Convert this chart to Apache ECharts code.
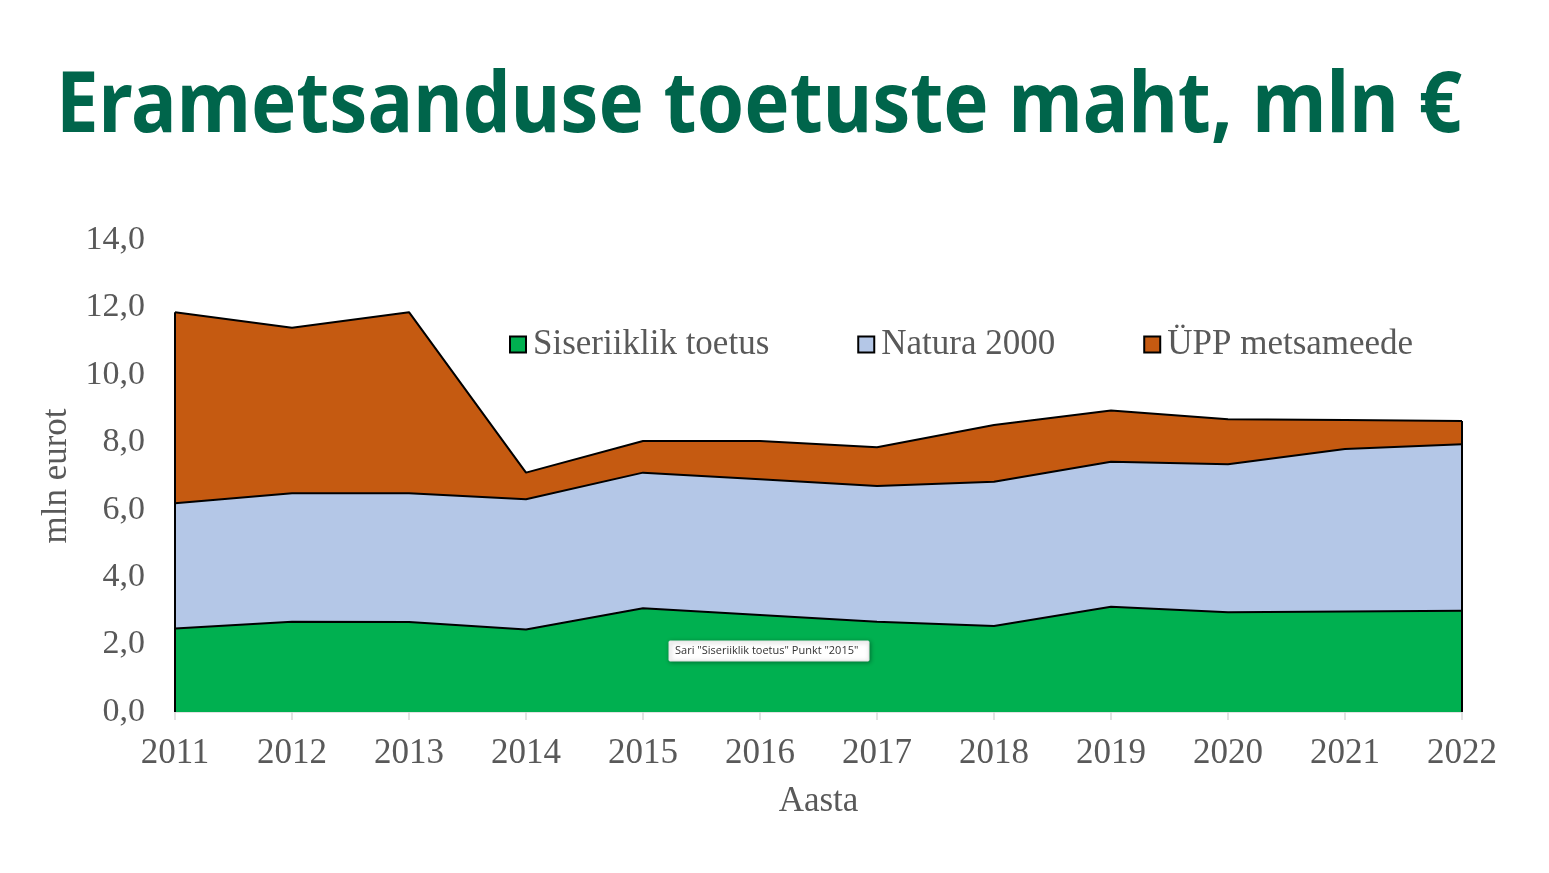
<!DOCTYPE html>
<html>
<head>
    <meta charset="utf-8">
    <title>Erametsanduse toetuste maht</title>
    <script src="https://cdn.jsdelivr.net/npm/echarts@6/dist/echarts.min.js"></script>
    <style type="text/css">
        html, body {
            margin: 0;
            padding: 0;
            background: #fff;
        }
        #main {
            width: 1549px;
            height: 873px;
        }
    </style>
</head>
<body>
<div id="main"></div>
<script>
    var years = ["2011", "2012", "2013", "2014", "2015", "2016", "2017", "2018", "2019", "2020", "2021", "2022"];
    var siseriiklik = [2.48, 2.68, 2.67, 2.45, 3.08, 2.88, 2.68, 2.55, 3.12, 2.96, 2.98, 3.00];
    var natura = [3.71, 3.81, 3.82, 3.86, 4.02, 4.02, 4.02, 4.28, 4.30, 4.39, 4.82, 4.94];
    var upp = [5.67, 4.91, 5.37, 0.79, 0.94, 1.14, 1.15, 1.68, 1.52, 1.33, 0.86, 0.69];
    var seriesNames = ["Siseriiklik toetus", "Natura 2000", "ÜPP metsameede"];
    var yTicks = [0, 2, 4, 6, 8, 10, 12, 14];

    var gray = '#595959';
    var serif = '"Liberation Serif", "DejaVu Serif", serif';

    // kogusumma servajoonte jaoks (Exceli ala kontuur)
    var last = years.length - 1;
    var totalFirst = siseriiklik[0] + natura[0] + upp[0];
    var totalLast = siseriiklik[last] + natura[last] + upp[last];

    function areaSeries(name, data, color) {
        return {
            name: name,
            type: 'line',
            stack: 'kokku',
            data: data,
            showSymbol: false,
            symbol: 'none',
            lineStyle: {color: '#000', width: 2},
            itemStyle: {color: color, borderColor: '#000', borderWidth: 2},
            areaStyle: {color: color, opacity: 1},
            emphasis: {disabled: true}
        };
    }

    var myChart = echarts.init(document.getElementById('main'));
    var upps = areaSeries(seriesNames[2], upp, '#C55A11');
    upps.markLine = {
        silent: true,
        symbol: 'none',
        label: {show: false},
        lineStyle: {color: '#000', width: 2, type: 'solid'},
        data: [
            [{coord: [0, 0]}, {coord: [0, totalFirst]}],
            [{coord: [last, 0]}, {coord: [last, totalLast]}]
        ]
    };

    var option = {
        animation: false,
        backgroundColor: '#fff',
        legend: {
            data: seriesNames,
            left: 504,
            top: 322,
            itemGap: 88,
            itemWidth: 16,
            itemHeight: 16,
            icon: 'rect',
            itemStyle: {borderColor: '#000', borderWidth: 2},
            textStyle: {fontFamily: serif, fontSize: 35, color: gray, padding: [0, 0, 0, 2]}
        },
        grid: {
            left: 175,
            right: 87,
            top: 240,
            bottom: 161,
            containLabel: false
        },
        xAxis: {
            type: 'category',
            data: years,
            boundaryGap: false,
            name: 'Aasta',
            nameLocation: 'middle',
            nameGap: 72,
            nameTextStyle: {fontFamily: serif, fontSize: 35, color: gray},
            axisLine: {lineStyle: {color: '#D9D9D9', width: 1.5}},
            axisTick: {show: true, length: 8, lineStyle: {color: '#D9D9D9', width: 1.5}},
            axisLabel: {fontFamily: serif, fontSize: 35, color: gray, margin: 24},
            splitLine: {show: false}
        },
        yAxis: {
            type: 'value',
            min: yTicks[0],
            max: yTicks[yTicks.length - 1],
            interval: 2,
            name: 'mln eurot',
            nameLocation: 'middle',
            nameGap: 98,
            nameTextStyle: {fontFamily: serif, fontSize: 35, color: gray},
            axisLine: {show: false},
            axisTick: {show: false},
            splitLine: {show: false},
            axisLabel: {
                fontFamily: serif,
                fontSize: 34,
                color: gray,
                margin: 30,
                formatter: function (v) {
                    return v.toFixed(1).replace('.', ',');
                }
            }
        },
        series: [
            areaSeries(seriesNames[0], siseriiklik, '#00B050'),
            areaSeries(seriesNames[1], natura, '#B4C7E7'),
            upps
        ],
        graphic: [{
            type: 'text',
            z: 100,
            x: 56,
            y: 66,
            scaleX: 0.906,
            style: {
                text: 'Erametsanduse toetuste maht, mln €',
                fontFamily: '"Noto Sans", "Open Sans", sans-serif',
                fontWeight: 'bold',
                fontSize: 84,
                fill: '#00654B',
                verticalAlign: 'top'
            }
        }, {
            type: 'group',
            z: 100,
            x: 669,
            y: 641,
            children: [{
                type: 'rect',
                z: 100,
                shape: {x: 0, y: 0, width: 200, height: 20, r: 1},
                style: {
                    fill: '#fff',
                    stroke: '#E3E3E3',
                    lineWidth: 1,
                    shadowBlur: 4,
                    shadowOffsetX: 1,
                    shadowOffsetY: 1,
                    shadowColor: 'rgba(0,0,0,0.35)'
                }
            }, {
                type: 'text',
                z: 101,
                x: 6,
                y: 10,
                style: {
                    text: 'Sari "Siseriiklik toetus" Punkt "2015"',
                    fontFamily: '"Open Sans", "Noto Sans", sans-serif',
                    fontSize: 11,
                    fill: '#333333',
                    verticalAlign: 'middle'
                }
            }]
        }]
    };
    myChart.setOption(option);
</script>
</body>
</html>
